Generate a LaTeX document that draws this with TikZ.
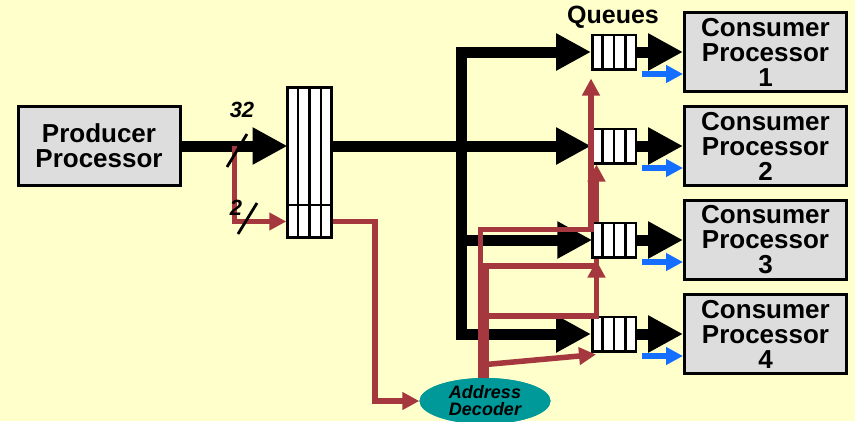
\documentclass[tikz,border=0pt]{standalone}
\usepackage{fontspec}
\setmainfont{Liberation Sans}
\usetikzlibrary{arrows.meta,calc,shapes.geometric}
\definecolor{bg}{HTML}{FFFFCC}
\definecolor{wirecol}{HTML}{A5373F}
\definecolor{sigcol}{HTML}{146EFF}
\definecolor{boxgray}{HTML}{DDDDDD}
\definecolor{decteal}{HTML}{009999}
\begin{document}
\begin{tikzpicture}[x=1pt,y=-1pt,
  procbox/.style={draw=black,line width=3pt,fill=boxgray,minimum width=162pt,minimum height=79pt,inner sep=0pt,align=center,font=\fontsize{26}{25}\selectfont\bfseries},
  queuebox/.style={draw=black,line width=2.5pt,fill=white,minimum width=43.5pt,minimum height=34.5pt,inner sep=0pt},
  bufbox/.style={draw=black,line width=2.5pt,fill=white,minimum width=44pt,minimum height=150pt,inner sep=0pt},
  cell/.style={line width=2.5pt},
  bus/.style={line width=11pt,line join=miter,-{Triangle[length=35pt,width=35pt]}},
  wire/.style={draw=wirecol,line width=5.5pt,line join=miter,-{Triangle[length=17pt,width=17pt]}},
  sig/.style={draw=sigcol,line width=6pt,-{Triangle[length=17pt,width=17pt]}},
  slash/.style={line width=2.8pt},
  lbl/.style={inner sep=0pt,font=\fontsize{22}{22}\selectfont\bfseries\itshape}
]
\useasboundingbox (0,0) rectangle (855,421);
\fill[bg] (0,0) rectangle (855,421);

% nodes
\node[procbox] (prod) at (99,146) {Producer\\Processor};
\node[procbox] (c1) at (765.5,52) {Consumer\\Processor\\1};
\node[procbox] (c2) at (765.5,146) {Consumer\\Processor\\2};
\node[procbox] (c3) at (765.5,240) {Consumer\\Processor\\3};
\node[procbox] (c4) at (765.5,334) {Consumer\\Processor\\4};

\coordinate (T1) at (461,52);
\coordinate (T4) at (461,334);

% black buses
\draw[bus] (prod.east) -- (prod.east -| 287.5,0);
\node[bufbox] (buf) at (309.5,162.5) {};
\foreach \f in {0.25,0.5,0.75}
  \draw[cell] ($(buf.north west)!\f!(buf.north east)$) -- ($(buf.south west)!\f!(buf.south east)$);
\draw[cell] (buf.west |- 0,205) -- (buf.east |- 0,205);

\node[queuebox] (q1) at (614,52) {};
\node[queuebox] (q2) at (614,146) {};
\node[queuebox] (q4) at (614,334) {};

\draw[bus] (buf.east |- q2.west) -- (q2.west);
\draw[bus] (T1) -- (T4) -- (q4.west);
\draw[bus] (T4) -- (T1) -- (q1.west);
\draw[bus] (T1 |- 0,240) -- (592.25,240) coordinate (q3w);

% arrow tips into queues (named coordinates)
\coordinate (t1) at ($(q1.south west)+(0,8)$);
\coordinate (t2) at ($(q2.south west)+(5.5,0)$);
\coordinate (s1) at (480.5,390);
\coordinate (s2) at (486,390);

% red line to queue 2 runs behind queue 3
\draw[wire] (s2) |- (t2 |- 0,266) -- (t2);

\node[queuebox] (q3) at (614,240) {};
\coordinate (t3) at ($(q3.south west)+(5.5,2)$);
\coordinate (t4) at ($(q4.south west)+(5,2)$);

\foreach \q in {q1,q2,q3,q4}
  \foreach \f in {0.25,0.5,0.75}
    \draw[cell] ($(\q.north west)!\f!(\q.north east)$) -- ($(\q.south west)!\f!(\q.south east)$);

% queue to consumer
\draw[bus] (q1.east) -- (c1.west);
\draw[bus] (q2.east) -- (c2.west);
\draw[bus] (q3.east) -- (c3.west);
\draw[bus] (q4.east) -- (c4.west);

% blue control arrows
\draw[sig] ($(q1.east)+(5,22)$) -- ($(c1.west)+(0,22)$);
\draw[sig] ($(q2.east)+(5,22)$) -- ($(c2.west)+(0,22)$);
\draw[sig] ($(q3.east)+(5,22)$) -- ($(c3.west)+(0,22)$);
\draw[sig] ($(q4.east)+(5,22)$) -- ($(c4.west)+(0,22)$);

% red address wires
\coordinate (tap) at (234.5,146);
\draw[wire] (tap) |- (buf.west |- 0,221.5);
\node[ellipse,fill=decteal,minimum width=131pt,minimum height=46pt,inner sep=0pt] (dec) at (485,401) {};
\draw[wire] (buf.east |- 0,221.5) -| ($(dec.west)+(-44.5,0)$) -- (dec.west);
\draw[wire] (s1) |- (t1 |- 0,229.5) -- (t1);
\draw[wire] (s2) |- (t3 |- 0,316) -- (t3);
\draw[wire] (s2) -- (486,364.5) -- (t4);
\node[ellipse,fill=decteal,minimum width=131pt,minimum height=46pt,inner sep=0pt,align=center,
      font=\fontsize{18}{17}\selectfont\bfseries\itshape] (decb) at (dec) {Address\\Decoder};

% labels and width marks
\node[inner sep=0pt,font=\fontsize{25}{25}\selectfont\bfseries] (qlabel) at (613,17) {Queues};
\node[lbl] (w32) at (242,110) {32};
\node[lbl] (w2) at (236,208) {2};
\draw[slash] (227,167) -- (247,134);
\draw[slash] (238,234) -- (257,203);
\end{tikzpicture}
\end{document}
